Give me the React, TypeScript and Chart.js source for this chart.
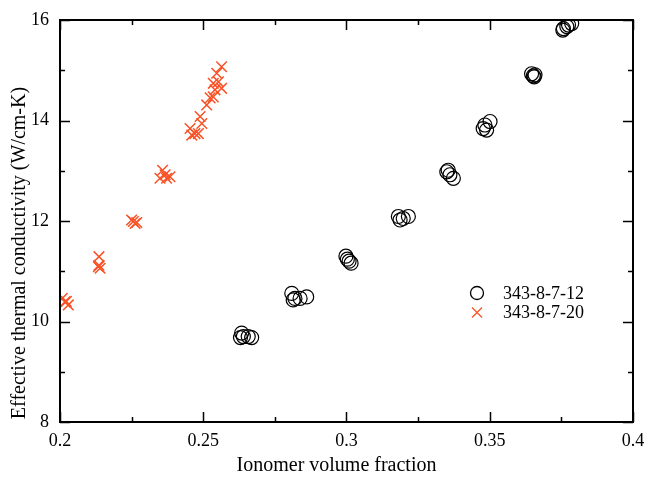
import React, { useEffect, useRef } from 'react';
import { Chart, registerables } from 'chart.js';
Chart.register(...registerables);

const xMin = 0.2;
const xMax = 0.4;
const yMin = 8;
const yMax = 16;
const xMajorTicks = [0.2, 0.25, 0.3, 0.35, 0.4];
const xMinorTicks = [0.225, 0.275, 0.325, 0.375];
const yMajorTicks = [8, 10, 12, 14, 16];
const yMinorTicks = [9, 11, 13, 15];

const xTitle = 'Ionomer volume fraction';
const yTitle = 'Effective thermal conductivity (W/cm-K)';

const seriesALabel = '343-8-7-12';
const seriesAX = [
  0.2634, 0.264, 0.2657, 0.2669, 0.263,
  0.2809, 0.282, 0.2838, 0.2861, 0.2814,
  0.2998, 0.3009, 0.3016, 0.3003,
  0.3181, 0.3198, 0.3216, 0.3187,
  0.3355, 0.3361, 0.3373, 0.335,
  0.3483, 0.3477, 0.3501, 0.3489,
  0.3652, 0.3658, 0.3646, 0.3655,
  0.3757, 0.3769, 0.3786, 0.3775, 0.3755,
];
const seriesAY = [
  9.77, 9.7, 9.7, 9.68, 9.68,
  10.56, 10.46, 10.46, 10.49, 10.43,
  11.3, 11.2, 11.16, 11.24,
  12.09, 12.05, 12.09, 12.02,
  13.01, 12.92, 12.85, 12.98,
  13.91, 13.84, 13.98, 13.81,
  14.89, 14.91, 14.93, 14.87,
  15.83, 15.87, 15.93, 15.9, 15.8,
];

const seriesBLabel = '343-8-7-20';
const seriesBX = [
  0.2008, 0.2017, 0.2029, 0.2022,
  0.2136, 0.2136, 0.214, 0.2134,
  0.225, 0.2262, 0.2256, 0.2268,
  0.2358, 0.2349, 0.2372, 0.2367, 0.2384,
  0.2454, 0.246, 0.2471, 0.2483, 0.2495, 0.2489, 0.2512, 0.2524,
  0.2535, 0.2541, 0.2564, 0.2553, 0.2535, 0.2547, 0.2564,
];
const seriesBY = [
  10.46, 10.39, 10.33, 10.4,
  11.29, 11.12, 11.06, 11.09,
  12.02, 11.95, 11.99, 11.97,
  13.01, 12.85, 12.85, 12.92, 12.88,
  13.84, 13.71, 13.74, 13.74, 13.94, 14.08, 14.31, 14.45,
  14.47, 14.61, 14.64, 14.77, 14.74, 14.94, 15.07,
];

const FONT = "'Liberation Serif', 'Times New Roman', serif";
const ORANGE = 'rgb(248, 82, 38)';

const frameAndLabels = {
  id: 'frameAndLabels',
  afterDraw(chart: any) {
    const { ctx, chartArea } = chart;
    const xs = chart.scales.x;
    const ys = chart.scales.y;
    const { left, right, top, bottom } = chartArea;
    ctx.save();
    ctx.strokeStyle = '#000';
    ctx.lineWidth = 1.5;
    const tick = (vals: number[], len: number) => {
      vals.forEach((v) => {
        const px = Math.round(xs.getPixelForValue(v)) + 0.5;
        ctx.beginPath();
        ctx.moveTo(px, bottom);
        ctx.lineTo(px, bottom - len);
        ctx.moveTo(px, top);
        ctx.lineTo(px, top + len);
        ctx.stroke();
      });
    };
    const tickY = (vals: number[], len: number) => {
      vals.forEach((v) => {
        const py = Math.round(ys.getPixelForValue(v)) + 0.5;
        ctx.beginPath();
        ctx.moveTo(left, py);
        ctx.lineTo(left + len, py);
        ctx.moveTo(right, py);
        ctx.lineTo(right - len, py);
        ctx.stroke();
      });
    };
    tick(xMajorTicks, 10);
    tick(xMinorTicks, 5);
    tickY(yMajorTicks, 10);
    tickY(yMinorTicks, 5);
    ctx.lineWidth = 2;
    ctx.strokeRect(left, top, right - left, bottom - top);

    // axis titles
    ctx.fillStyle = '#000';
    ctx.font = `20px ${FONT}`;
    ctx.textAlign = 'center';
    ctx.textBaseline = 'middle';
    ctx.fillText(xTitle, (left + right) / 2 - 10, bottom + 44);
    ctx.save();
    ctx.translate(left - 40, (top + bottom) / 2 + 32);
    ctx.rotate(-Math.PI / 2);
    ctx.fillText(yTitle, 0, 0);
    ctx.restore();

    // legend
    const lx = right - 156;
    const ly = top + 273;
    ctx.font = `18px ${FONT}`;
    ctx.textAlign = 'left';
    ctx.strokeStyle = '#000';
    ctx.lineWidth = 1.3;
    ctx.beginPath();
    ctx.arc(lx, ly, 6.5, 0, Math.PI * 2);
    ctx.stroke();
    ctx.fillText(seriesALabel, lx + 26, ly + 1);
    const cy = ly + 19.5;
    ctx.strokeStyle = ORANGE;
    ctx.lineWidth = 1.3;
    ctx.beginPath();
    ctx.moveTo(lx - 5, cy - 5);
    ctx.lineTo(lx + 5, cy + 5);
    ctx.moveTo(lx + 5, cy - 5);
    ctx.lineTo(lx - 5, cy + 5);
    ctx.stroke();
    ctx.fillText(seriesBLabel, lx + 26, cy + 1);
    ctx.restore();
  },
};

export default function App() {
  const ref = useRef<HTMLCanvasElement | null>(null);
  useEffect(() => {
    if (!ref.current) return;
    const chart = new Chart(ref.current, {
      type: 'scatter',
      data: {
        datasets: [
          {
            label: seriesALabel,
            data: seriesAX.map((x, i) => ({ x, y: seriesAY[i] })),
            pointStyle: 'circle',
            pointRadius: 7,
            backgroundColor: 'rgba(0,0,0,0)',
            borderColor: '#000',
            borderWidth: 1.2,
          },
          {
            label: seriesBLabel,
            data: seriesBX.map((x, i) => ({ x, y: seriesBY[i] })),
            pointStyle: 'crossRot',
            pointRadius: 7.5,
            backgroundColor: ORANGE,
            borderColor: ORANGE,
            borderWidth: 1.5,
          },
        ],
      },
      options: {
        responsive: false,
        animation: false,
        layout: { padding: { left: 0, top: 20, right: 13, bottom: 0 } },
        plugins: { legend: { display: false }, tooltip: { enabled: false } },
        scales: {
          x: {
            type: 'linear',
            min: xMin,
            max: xMax,
            grid: { display: false },
            border: { display: false },
            afterFit: (s: any) => { s.height = 55; },
            afterBuildTicks: (s: any) => { s.ticks = xMajorTicks.map((v) => ({ value: v })); },
            ticks: {
              color: '#000',
              font: { family: FONT, size: 18 },
              padding: 0,
              maxRotation: 0,
              autoSkip: false,
              callback: (v: any) => String(v),
            },
          },
          y: {
            type: 'linear',
            min: yMin,
            max: yMax,
            grid: { display: false },
            border: { display: false },
            afterFit: (s: any) => { s.width = 60; },
            afterBuildTicks: (s: any) => { s.ticks = yMajorTicks.map((v) => ({ value: v })); },
            ticks: {
              color: '#000',
              font: { family: FONT, size: 18 },
              padding: 3,
              autoSkip: false,
              callback: (v: any) => String(v),
            },
          },
        },
      },
      plugins: [frameAndLabels],
    });
    return () => chart.destroy();
  }, []);
  return (
    <div style={{ position: 'absolute', left: 0, top: 0, width: 646, height: 477, background: '#fff' }}>
      <canvas ref={ref} width={646} height={477} />
    </div>
  );
}
